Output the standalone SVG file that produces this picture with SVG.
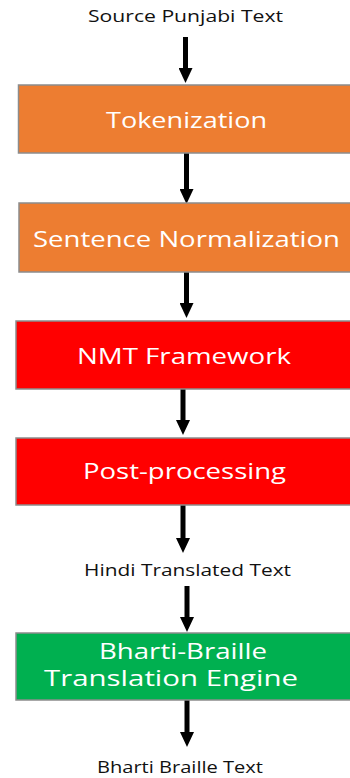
<svg xmlns="http://www.w3.org/2000/svg" width="350" height="778" viewBox="0 0 350 778">
  <style>
    .box { stroke: #8c8c8c; stroke-width: 1.5; }
    .orange { fill: #ED7D31; }
    .red { fill: #FF0000; }
    .green { fill: #00B050; }
    .btxt { font-family: "Open Sans", "Noto Sans", sans-serif; font-size: 22px; fill: #ffffff; }
    .ltxt { font-family: "Open Sans", "Noto Sans", sans-serif; font-size: 16px; fill: #111111; }
    .arrow { stroke: #000000; stroke-width: 5; fill: none; marker-end: url(#head); }
  </style>
  <defs>
    <marker id="head" markerUnits="userSpaceOnUse" viewBox="0 0 15 14" refX="0" refY="7" markerWidth="15" markerHeight="14" orient="auto">
      <path d="M0,0 L15,7 L0,14 z" fill="#000000"/>
    </marker>
  </defs>
  <rect width="350" height="778" fill="#ffffff"/>

  <g id="connectors">
    <line class="arrow" x1="185.5" y1="37" x2="185.5" y2="68"/>
    <line class="arrow" x1="186.5" y1="153" x2="186.5" y2="189"/>
    <line class="arrow" x1="186.5" y1="272" x2="186.5" y2="303"/>
    <line class="arrow" x1="183" y1="389" x2="183" y2="420"/>
    <line class="arrow" x1="183" y1="505" x2="183" y2="538"/>
    <line class="arrow" x1="187" y1="586" x2="187" y2="617"/>
    <line class="arrow" x1="187" y1="700" x2="187" y2="732"/>
  </g>

  <g id="source-label">
    <text class="ltxt" x="88" y="22" textLength="195" lengthAdjust="spacingAndGlyphs">Source Punjabi Text</text>
  </g>

  <g id="tokenization">
    <rect class="box orange" x="18.5" y="85" width="340" height="68"/>
    <text class="btxt" x="106" y="128" font-size="24" textLength="161" lengthAdjust="spacingAndGlyphs">Tokenization</text>
  </g>

  <g id="sentence-normalization">
    <rect class="box orange" x="19" y="203" width="340" height="69"/>
    <text class="btxt" x="33" y="247" textLength="307" lengthAdjust="spacingAndGlyphs">Sentence Normalization</text>
  </g>

  <g id="nmt-framework">
    <rect class="box red" x="16" y="321" width="340" height="68"/>
    <text class="btxt" x="77" y="364" textLength="214" lengthAdjust="spacingAndGlyphs">NMT Framework</text>
  </g>

  <g id="post-processing">
    <rect class="box red" x="16" y="438" width="340" height="67"/>
    <text class="btxt" x="83" y="479" textLength="203" lengthAdjust="spacingAndGlyphs">Post-processing</text>
  </g>

  <g id="hindi-label">
    <text class="ltxt" x="84" y="576" textLength="207" lengthAdjust="spacingAndGlyphs">Hindi Translated Text</text>
  </g>

  <g id="braille-engine">
    <rect class="box green" x="16" y="633" width="340" height="67"/>
    <text class="btxt" x="99" y="659" font-size="21" textLength="168" lengthAdjust="spacingAndGlyphs">Bharti-Braille</text>
    <text class="btxt" x="44" y="686" font-size="21" textLength="254" lengthAdjust="spacingAndGlyphs">Translation Engine</text>
  </g>

  <g id="braille-label">
    <text class="ltxt" x="97" y="773" textLength="166" lengthAdjust="spacingAndGlyphs">Bharti Braille Text</text>
  </g>
</svg>
